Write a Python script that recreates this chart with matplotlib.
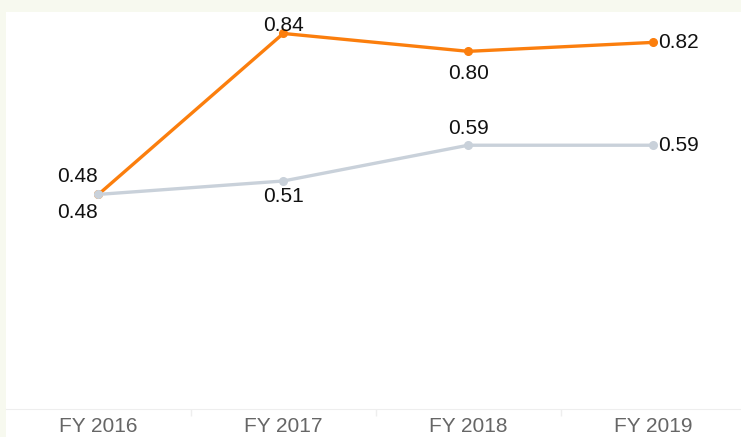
import matplotlib.pyplot as plt
from matplotlib.patches import Rectangle

plt.rcParams['font.family'] = ['Liberation Sans', 'DejaVu Sans']

years = ["FY 2016", "FY 2017", "FY 2018", "FY 2019"]
orange_vals = [0.48, 0.84, 0.80, 0.82]
gray_vals = [0.48, 0.51, 0.59, 0.59]

# label placement per point: (dx px, dy px, ha)
orange_pos = [(-1, 18, "right"), (0, 8, "center"), (0, -22, "center"), (5, 0, "left")]
gray_pos = [(-1, -18, "right"), (0, -16, "center"), (0, 17, "center"), (5, 0, "left")]

W, H = 741, 437
fig = plt.figure(figsize=(W / 100, H / 100), dpi=100)
fig.patch.set_facecolor("#f7f9ef")
fig.add_artist(Rectangle((6 / W, 0), 1, (H - 12) / H, transform=fig.transFigure,
                         facecolor="white", edgecolor="none", zorder=-5))

ax = fig.add_axes([6 / W, 28 / H, (W - 6) / W, (409 - 12) / H])
ax.set_zorder(2)
ax.set_facecolor("none")
x = range(len(years))

ax.plot(x, orange_vals, color="#fb7e0d", lw=2.4, marker="o", ms=5.5, zorder=3)
ax.plot(x, gray_vals, color="#c9d1da", lw=2.4, marker="o", ms=5.5, zorder=4)

for vals, pos in [(orange_vals, orange_pos), (gray_vals, gray_pos)]:
    for i, (v, p) in enumerate(zip(vals, pos)):
        ax.annotate(f"{v:.2f}", (i, v), xytext=(p[0] * 0.72, p[1] * 0.72),
                    textcoords="offset points", ha=p[2], va="center",
                    fontsize=15, color="#111111", zorder=5, annotation_clip=False)

ax.set_xlim(-0.5, 3.476)
ax.set_ylim(0, 0.888)
ax.set_yticks([])
ax.set_xticks(list(x))
ax.set_xticklabels(years, fontsize=15, color="#666666")
ax.set_xticks([0.5, 1.5, 2.5], minor=True)
ax.tick_params(axis="x", which="major", length=0, pad=5.5)
ax.tick_params(axis="x", which="minor", length=5, color="#eeeeee", width=1)
for s in ["top", "left", "right"]:
    ax.spines[s].set_visible(False)
ax.spines["bottom"].set_color("#eeeeee")

fig.savefig("out.png", dpi=100, facecolor=fig.get_facecolor())
